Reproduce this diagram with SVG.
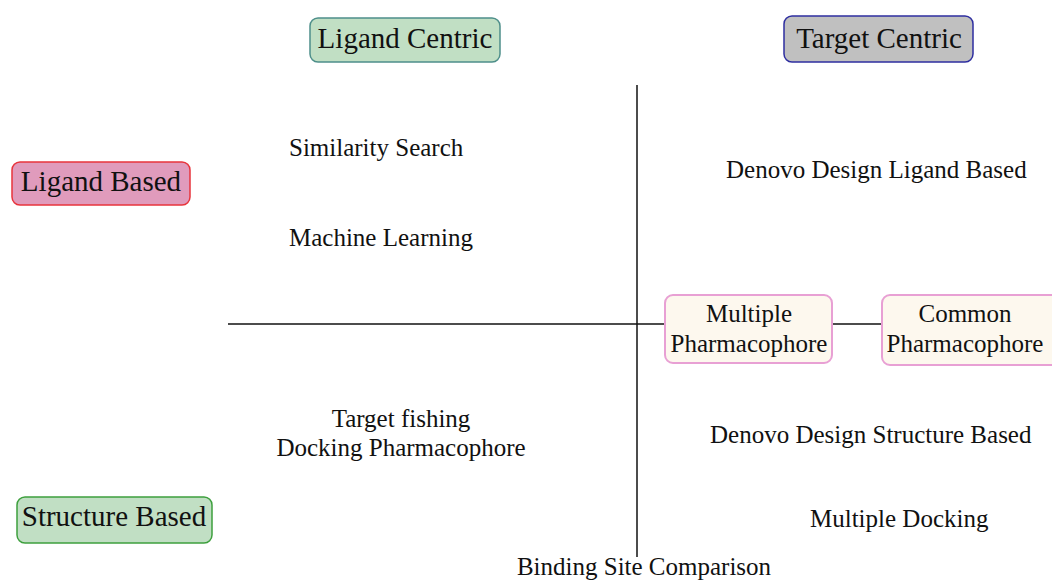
<svg xmlns="http://www.w3.org/2000/svg" width="1052" height="581" viewBox="0 0 1052 581">
  <style>
    text { font-family: "Liberation Serif", "Times New Roman", serif; fill: #111; }
    .hdr { font-size: 29px; text-anchor: middle; }
    .lbl { font-size: 25px; }
    .mid { text-anchor: middle; }
    .axis { stroke: #111; stroke-width: 1.5; fill: none; }
    .pharm { fill: #FDF8EE; stroke: #E8A0D4; stroke-width: 2; }
  </style>
  <rect width="1052" height="581" fill="#ffffff"/>

  <!-- axes and links -->
  <g id="connectors">
    <line class="axis" x1="637" y1="85" x2="637" y2="557"/>
    <line class="axis" x1="228" y1="324" x2="665" y2="324"/>
    <line class="axis" x1="832" y1="324" x2="882" y2="324"/>
  </g>

  <g id="ligand-centric">
    <rect x="310" y="18" width="190" height="44" rx="8" fill="#C1DFC4" stroke="#4E8F8A" stroke-width="1.5"/>
    <text class="hdr" x="405" y="48">Ligand Centric</text>
  </g>

  <g id="target-centric">
    <rect x="784" y="16" width="189" height="46" rx="8" fill="#C0C0C0" stroke="#2E2EA0" stroke-width="1.5"/>
    <text class="hdr" x="879" y="48">Target Centric</text>
  </g>

  <g id="ligand-based">
    <rect x="12" y="162" width="178" height="43" rx="8" fill="#E09BBC" stroke="#E8343C" stroke-width="1.5"/>
    <text class="hdr" x="101" y="191">Ligand Based</text>
  </g>

  <g id="structure-based">
    <rect x="17" y="497" width="195" height="46" rx="8" fill="#C1DFC4" stroke="#3EA03E" stroke-width="1.5"/>
    <text class="hdr" x="114" y="526">Structure Based</text>
  </g>

  <g id="multiple-pharmacophore">
    <rect class="pharm" x="665" y="295" width="167" height="68" rx="8"/>
    <text class="lbl mid" x="749" y="322">Multiple</text>
    <text class="lbl mid" x="749" y="352">Pharmacophore</text>
  </g>

  <g id="common-pharmacophore">
    <rect class="pharm" x="882" y="295" width="185" height="70" rx="8"/>
    <text class="lbl mid" x="965" y="322">Common</text>
    <text class="lbl mid" x="965" y="352">Pharmacophore</text>
  </g>

  <g id="similarity-search">
    <text class="lbl" x="289" y="156">Similarity Search</text>
  </g>
  <g id="machine-learning">
    <text class="lbl" x="289" y="246">Machine Learning</text>
  </g>
  <g id="denovo-ligand">
    <text class="lbl" x="726" y="178">Denovo Design Ligand Based</text>
  </g>
  <g id="target-fishing">
    <text class="lbl mid" x="401" y="427">Target fishing</text>
    <text class="lbl mid" x="401" y="456">Docking Pharmacophore</text>
  </g>
  <g id="denovo-structure">
    <text class="lbl" x="710" y="443">Denovo Design Structure Based</text>
  </g>
  <g id="multiple-docking">
    <text class="lbl" x="810" y="527">Multiple Docking</text>
  </g>
  <g id="binding-site">
    <text class="lbl mid" x="644" y="575">Binding Site Comparison</text>
  </g>
</svg>
